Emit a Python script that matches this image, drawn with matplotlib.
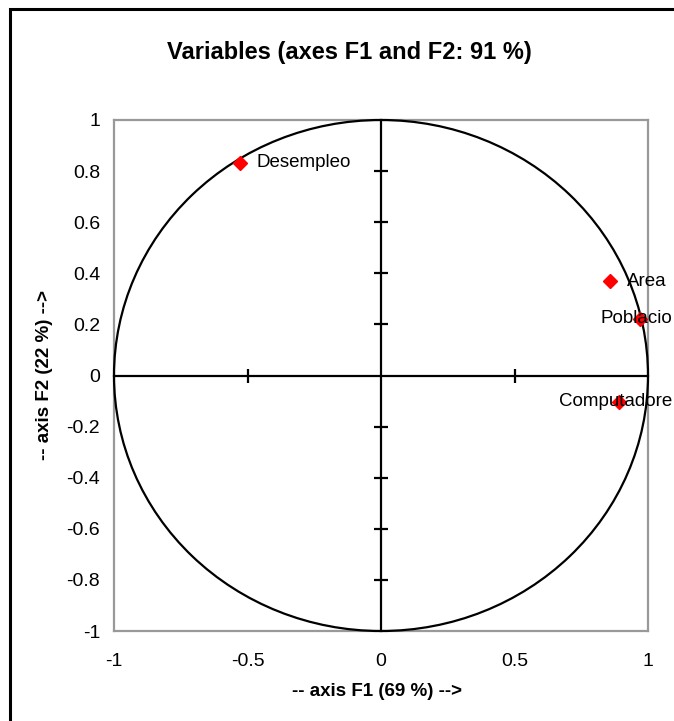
import numpy as np
import matplotlib.pyplot as plt
from matplotlib.patches import Circle, Rectangle

plt.rcParams['font.family'] = ['Liberation Sans', 'DejaVu Sans']

# variable coordinates on F1 / F2
variables = ['Desempleo', 'Area', 'Poblacio', 'Computadore']
f1 = [-0.528, 0.858, 0.970, 0.891]
f2 = [0.832, 0.368, 0.223, -0.102]
label_side = ['right', 'right', 'center', 'center']

xticks = [-1, -0.5, 0, 0.5, 1]
yticks = [-1, -0.8, -0.6, -0.4, -0.2, 0, 0.2, 0.4, 0.6, 0.8, 1]

W, H = 674, 721
fig = plt.figure(figsize=(W/100, H/100), dpi=100)
pos = [114/W, 1 - 631/H, 534/W, 511/H]

# outer frame: only top and left edges fall inside the picture
fig.patches.append(Rectangle((10/W, -0.2), 1.2, 1.2 - 9/H,
                             transform=fig.transFigure, fill=False,
                             lw=2.2, ec='black'))

ax = fig.add_axes(pos)
ax.set_xlim(-1, 1)
ax.set_ylim(-1, 1)
for s in ax.spines.values():
    s.set_color('#999999')
    s.set_linewidth(1.6)
ax.set_xticks(xticks)
ax.set_xticklabels(['{:g}'.format(v) for v in xticks])
ax.set_yticks(yticks)
ax.set_yticklabels(['{:g}'.format(v) for v in yticks])
ax.tick_params(axis='x', length=0, pad=16, labelsize=14)
ax.tick_params(axis='y', length=0, pad=10, labelsize=14)

# center cross with tick marks
ax2 = fig.add_axes(pos)
ax2.set_xlim(-1, 1)
ax2.set_ylim(-1, 1)
ax2.patch.set_visible(False)
ax2.spines['top'].set_visible(False)
ax2.spines['right'].set_visible(False)
ax2.spines['left'].set_position(('data', 0))
ax2.spines['bottom'].set_position(('data', 0))
for side in ['left', 'bottom']:
    ax2.spines[side].set_linewidth(1.6)
    ax2.spines[side].set_color('black')
ax2.set_xticks([-0.5, 0.5])
ax2.set_yticks([v for v in yticks if v not in (-1, 0, 1)])
ax2.tick_params(direction='inout', length=10, width=1.6, color='black',
                labelbottom=False, labelleft=False)

ax2.add_patch(Circle((0, 0), 1, fill=False, lw=1.6, ec='black',
                     clip_on=False))

ax2.plot(f1, f2, 'D', color='red', ms=7.5, mec='red', clip_on=False)
for name, x, y, side in zip(variables, f1, f2, label_side):
    if side == 'right':
        ax2.annotate(name, (x, y), xytext=(12, 0), textcoords='offset points',
                     ha='left', va='center', fontsize=13.5,
                     annotation_clip=False)
    else:
        ax2.annotate(name, (x, y), xytext=(-2.5, 0),
                     textcoords='offset points', ha='center', va='center',
                     fontsize=13.5, annotation_clip=False)

fig.text(349/W, 1 - 52/H, 'Variables (axes F1 and F2: 91 %)',
         ha='center', va='center', fontsize=17, fontweight='bold')
fig.text(377/W, 1 - 692/H, '-- axis F1 (69 %) -->',
         ha='center', va='center', fontsize=13.5, fontweight='bold')
fig.text(45/W, 1 - 375/H, '-- axis F2 (22 %) -->', rotation=90,
         ha='center', va='center', fontsize=13.5, fontweight='bold')

fig.savefig('out.png', dpi=100)
